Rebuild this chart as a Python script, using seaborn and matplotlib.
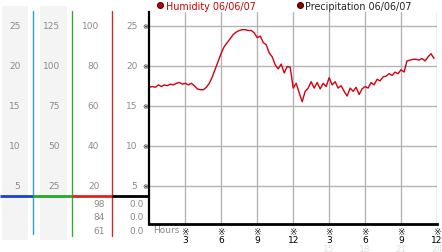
import numpy as np
import matplotlib
matplotlib.use("Agg")
import matplotlib.pyplot as plt
from matplotlib.lines import Line2D
from matplotlib.patches import Rectangle
import seaborn as sns

# ---------------- data ----------------
hours = np.arange(0, 24, 0.25)
humidity = [
    17.3, 17.4, 17.3, 17.6, 17.4, 17.6, 17.5, 17.7, 17.6, 17.8, 17.9, 17.7,
    17.8, 17.6, 17.8, 17.5, 17.1, 17.0, 17.0, 17.3, 17.8, 18.6, 19.6, 20.6,
    21.6, 22.4, 22.9, 23.4, 23.9, 24.2, 24.4, 24.5, 24.5, 24.4, 24.4, 24.1,
    23.5, 23.7, 22.9, 22.6, 21.6, 21.1, 20.1, 19.6, 20.2, 19.1, 19.9, 19.8,
    17.2, 17.8, 16.6, 15.5, 16.8, 17.2, 18.0, 17.2, 17.9, 17.1, 17.8, 17.4,
    18.5, 17.6, 18.0, 17.2, 17.5, 16.8, 16.2, 17.2, 16.8, 17.3, 16.4, 17.1,
    17.4, 17.2, 17.9, 17.6, 18.3, 18.1, 18.6, 18.7, 19.0, 18.8, 19.2, 19.0,
    19.5, 19.2, 20.6, 20.7, 20.8, 20.8, 20.7, 20.9, 20.6, 21.1, 21.5, 20.9,
]
x_ticks = [3, 6, 9, 12, 15, 18, 21, 24]
x_tick_labels = ["3", "6", "9", "12", "3", "6", "9", "12"]
x_faint_ticks = [15, 18, 21, 24]
x_faint_labels = ["15", "18", "21", "24"]
y_ticks = [5, 10, 15, 20, 25]
col1_labels = ["5", "10", "15", "20", "25"]
col2_labels = ["25", "50", "75", "100", "125"]
col3_labels = ["20", "40", "60", "80", "100"]
col4_labels = ["5", "10", "15", "20", "25"]
col3_current = ["98", "84", "61"]
col4_current = ["0.0", "0.0", "0.0"]
legend_labels = ["Humidity 06/06/07", "Precipitation 06/06/07"]

# ---------------- layout helpers ----------------
W, H = 442, 253
Y0 = 226.7   # pixel row of value 0
PPU = 8.0    # pixels per unit


def v(pix):
    return (Y0 - pix) / PPU


sns.set_style("white")
plt.rcParams["font.family"] = ["DejaVu Sans"]
FS = 6.5
GRAY = "#8a8a8a"

fig = plt.figure(figsize=(W / 100, H / 100), dpi=100)

# overlay axes covering whole figure: x in pixels, y in value units
ov = fig.add_axes([0, 0, 1, 1], zorder=0)
ov.set_xlim(0, W)
ov.set_ylim(v(H), v(0))
ov.axis("off")

# main axes
L, R, T, B = 149.4, 437.0, 12.7, 225.0
ax = fig.add_axes([L / W, (H - B) / H, (R - L) / W, (B - T) / H], zorder=1)
ax.set_facecolor("white")

sns.lineplot(x=hours, y=humidity, ax=ax, color="#d40010", lw=1.0)
ax.set_xlim(0, 24)
ax.set_ylim(v(B), v(T))
ax.set_xticks(x_ticks)
ax.set_xticklabels(["\u203b\n" + s for s in x_tick_labels], fontsize=FS,
                   linespacing=0.85)
ax.set_yticks(y_ticks)
ax.set_yticklabels(["\u203b"] * len(y_ticks), fontsize=5)
ax.tick_params(axis="x", length=0, pad=2, colors="black")
ax.tick_params(axis="y", length=0, pad=1, colors="black")
ax.grid(True, color="#b4b4b4", lw=1.0)
for s in ["top", "right"]:
    ax.spines[s].set_visible(False)
ax.spines["left"].set_linewidth(1.6)
ax.spines["bottom"].set_linewidth(2.0)
ax.spines["left"].set_color("black")
ax.spines["bottom"].set_color("black")
ax.set_xlabel("")
ax.set_ylabel("")

# faint secondary labels
for xt, lab in zip(x_faint_ticks, x_faint_labels):
    ax.text(xt, v(250), lab, ha="center", va="center", fontsize=FS,
            color="#e2e2e2", clip_on=False)
ax.text(L + 4, v(231), "Hours", transform=ov.transData, ha="left",
        va="center", fontsize=FS, color=GRAY)

# ---------------- left panel ----------------
for x0, x1 in [(1.7, 28.3), (40.0, 66.7)]:
    ov.add_patch(Rectangle((x0, v(241)), x1 - x0, v(6.7) - v(241),
                           facecolor="#f4f4f4", edgecolor="none", zorder=0))

ov.plot([33.3, 33.3], [v(11.7), v(235)], color="#2a9fd6", lw=1.0)
ov.plot([72.3, 72.3], [v(11.7), v(237)], color="#33aa33", lw=1.0)
ov.plot([111.7, 111.7], [v(12.0), v(236.7)], color="#cc2a2a", lw=1.0)

yh = v(196.7)
ov.plot([0, 33.3], [yh, yh], color="#1a3fd8", lw=2.0, solid_capstyle="butt")
ov.plot([33.3, 72.3], [yh, yh], color="#22aa22", lw=2.0, solid_capstyle="butt")
ov.plot([72.3, 111.7], [yh, yh], color="#dd2222", lw=2.0, solid_capstyle="butt")
ov.plot([111.7, 150], [yh, yh], color="black", lw=2.0, solid_capstyle="butt")

for yt, a, b, c, d in zip(y_ticks, col1_labels, col2_labels, col3_labels,
                          col4_labels):
    ov.text(20.5, yt, a, ha="right", va="center", fontsize=FS, color=GRAY)
    ov.text(60.0, yt, b, ha="right", va="center", fontsize=FS, color=GRAY)
    ov.text(99.3, yt, c, ha="right", va="center", fontsize=FS, color=GRAY)
    ov.text(137.3, yt, d, ha="right", va="center", fontsize=FS, color=GRAY)

for pix, a, b in zip([204.3, 218.0, 231.8], col3_current, col4_current):
    ov.text(104.5, v(pix), a, ha="right", va="center", fontsize=FS, color=GRAY)
    ov.text(144.0, v(pix), b, ha="right", va="center", fontsize=FS, color=GRAY)

# ---------------- legend ----------------
handles = [
    Line2D([], [], ls="", marker="o", ms=4.2, markerfacecolor="#cc0000",
           markeredgecolor="#440000", markeredgewidth=0.8),
    Line2D([], [], ls="", marker="o", ms=4.2, markerfacecolor="#990000",
           markeredgecolor="#330000", markeredgewidth=0.8),
]
leg = fig.legend(handles, legend_labels, ncol=2, frameon=False,
                 loc="center left", bbox_to_anchor=(158 / W, (H - 6.5) / H),
                 fontsize=6.9, handlelength=0.5, handletextpad=0.3,
                 columnspacing=4.4, borderpad=0, borderaxespad=0)
leg.get_texts()[0].set_color("#cc0000")
leg.get_texts()[1].set_color("#222222")

fig.savefig("out.png", dpi=100)
